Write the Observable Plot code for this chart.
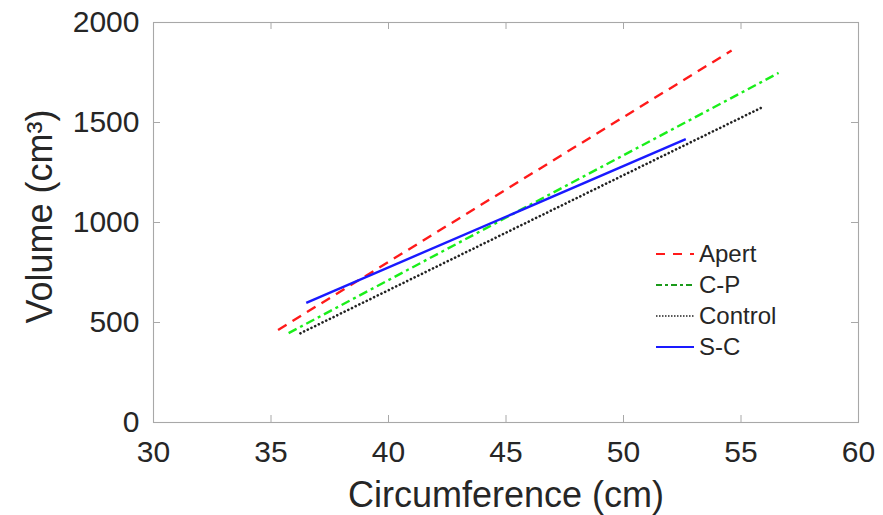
<!DOCTYPE html>
<html>
<head>
<meta charset="utf-8">
<script src="https://cdn.jsdelivr.net/npm/d3@7"></script>
<script src="https://cdn.jsdelivr.net/npm/@observablehq/plot@0.6"></script>
<style>
  html, body { margin: 0; padding: 0; background: #fff; }
  #wrap { position: relative; width: 883px; height: 515px; font-family: "Liberation Sans", Arial, Helvetica, sans-serif; }
  #legend { position: absolute; left: 655px; top: 238px; color: #262626; font-size: 24px; line-height: 31px; }
  #legend .row { display: flex; align-items: center; height: 31px; white-space: nowrap; }
  #legend svg { margin-right: 4px; }
</style>
</head>
<body>
<div id="wrap"></div>
<script>
// Data: each group is a straight regression segment, given by its two endpoints
const groups = ["Apert", "C-P", "Control", "S-C"];
const circStart = [35.3, 35.75, 36.25, 36.5];
const circEnd   = [54.6, 56.6, 55.85, 52.65];
const volStart  = [463, 447, 446, 598];
const volEnd    = [1860, 1748, 1573, 1417];
const xTicks = [30, 35, 40, 45, 50, 55, 60];
const yTicks = [0, 500, 1000, 1500, 2000];

const colors = {"Apert": "#ff1a1a", "C-P": "#1aee1a", "Control": "#222222", "S-C": "#1a1aff"};
const dashes = {"Apert": "10,7", "C-P": "9,4,3,4", "Control": "0.1,4", "S-C": null};
const legendColors = {"Apert": "#ff1a1a", "C-P": "#1a9a1a", "Control": "#222222", "S-C": "#1a1aff"};
const legendDashes = {"Apert": "9,8", "C-P": "6,3,3,3", "Control": "1.5,1.5", "S-C": null};

const W = 883, H = 515;
const mL = 153, mR = 25, mT = 22, mB = 93;
const pw = W - mL - mR, ph = H - mT - mB;

const rows = [];
groups.forEach((g, i) => {
  rows.push({group: g, c: circStart[i], v: volStart[i]});
  rows.push({group: g, c: circEnd[i], v: volEnd[i]});
});

const lineMarks = groups.map(g => Plot.line(rows.filter(r => r.group === g), {
  x: "c", y: "v",
  stroke: colors[g],
  strokeWidth: g === "Control" ? 2.6 : 2.4,
  strokeDasharray: dashes[g] || undefined,
  strokeLinecap: g === "Control" ? "round" : "butt"
}));

const chart = Plot.plot({
  width: W, height: H,
  marginLeft: mL, marginRight: mR, marginTop: mT, marginBottom: mB,
  style: {fontFamily: "'Liberation Sans', Arial, Helvetica, sans-serif", color: "#262626", background: "white"},
  x: {domain: [30, 60]},
  y: {domain: [0, 2000]},
  marks: [
    Plot.frame({stroke: "#a8a8a8", strokeWidth: 1.1}),
    Plot.tickX(xTicks, {x: d => d, insetTop: ph - 7, stroke: "#a8a8a8"}),
    Plot.tickX(xTicks, {x: d => d, insetBottom: ph - 7, stroke: "#a8a8a8"}),
    Plot.tickY(yTicks, {y: d => d, insetRight: pw - 7, stroke: "#a8a8a8"}),
    Plot.tickY(yTicks, {y: d => d, insetLeft: pw - 7, stroke: "#a8a8a8"}),
    Plot.axisX(xTicks, {anchor: "bottom", tickSize: 0, tickPadding: 18, fontSize: 30, label: null, tickFormat: d3.format("d")}),
    Plot.axisY(yTicks, {anchor: "left", tickSize: 0, tickPadding: 14, fontSize: 30, label: null, tickFormat: d3.format("d")}),
    ...lineMarks,
    Plot.text(["Circumference (cm)"], {frameAnchor: "bottom", dy: 73, fontSize: 36, fill: "#262626", textAnchor: "middle", lineAnchor: "middle"}),
    Plot.text(["Volume (cm³)"], {frameAnchor: "left", dx: -113, dy: -6, rotate: -90, fontSize: 36, fill: "#262626", textAnchor: "middle", lineAnchor: "middle"})
  ]
});

const wrap = document.getElementById("wrap");
wrap.appendChild(chart);

const legend = document.createElement("div");
legend.id = "legend";
groups.forEach(g => {
  const row = document.createElement("div");
  row.className = "row";
  const dash = legendDashes[g] ? ` stroke-dasharray="${legendDashes[g]}"` : "";
  row.innerHTML = `<svg width="40" height="10"><line x1="1" x2="39" y1="5" y2="5" stroke="${legendColors[g]}" stroke-width="${g === 'Control' ? 1.5 : 2}"${dash}/></svg><span>${g}</span>`;
  legend.appendChild(row);
});
wrap.appendChild(legend);
</script>
</body>
</html>
